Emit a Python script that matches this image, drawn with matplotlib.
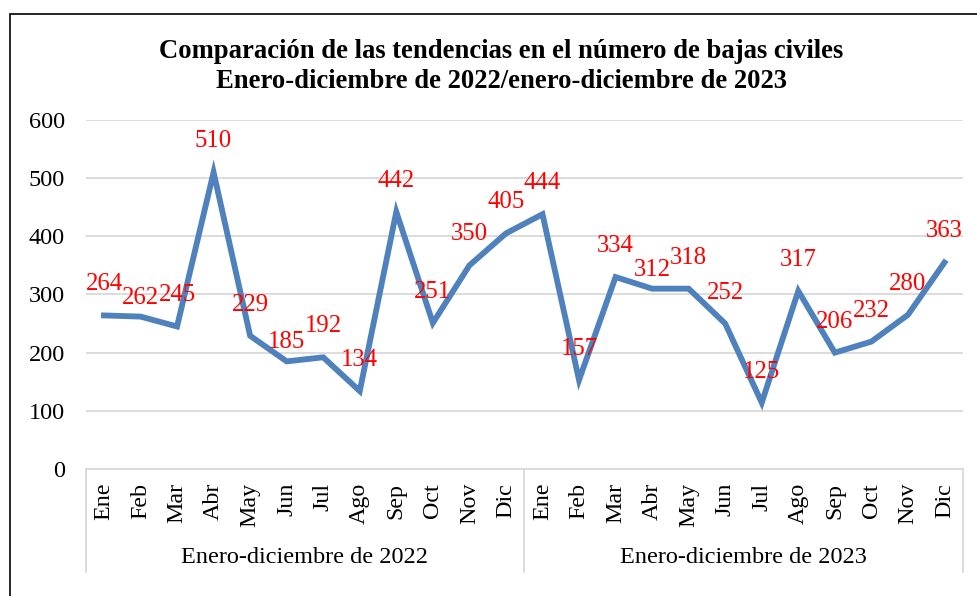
import numpy as np
import matplotlib
matplotlib.use("Agg")
import matplotlib.pyplot as plt
from matplotlib.patches import Rectangle
import matplotlib.transforms as mtransforms

plt.rcParams['font.family'] = ['Liberation Serif', 'DejaVu Serif']

# data
months = ["Ene", "Feb", "Mar", "Abr", "May", "Jun", "Jul", "Ago", "Sep", "Oct", "Nov", "Dic"]
periods = ["Enero-diciembre de 2022", "Enero-diciembre de 2023"]
# line as drawn
line_2022 = [264, 262, 245, 510, 229, 185, 192, 134, 442, 251, 350, 405]
line_2023 = [438, 153, 330, 310, 310, 250, 114, 306, 200, 219, 265, 355]
# numbers printed in red on the chart
labels_2022 = [264, 262, 245, 510, 229, 185, 192, 134, 442, 251, 350, 405]
labels_2023 = [444, 157, 334, 312, 318, 252, 125, 317, 206, 232, 280, 363]

values = line_2022 + line_2023
label_values = labels_2022 + labels_2023
ticklabels = months * len(periods)
x = np.arange(len(values))

# labels that sit a bit closer to the line in the original
close_labels = {1, 5, 15}

fig = plt.figure(figsize=(9.77, 5.96), dpi=100)
ax = fig.add_axes([0.0877, 0.2131, 0.8977, 0.5856])

ax.plot(x, values, color="#4f81bd", lw=4.2, solid_joinstyle="miter", zorder=3)

for i, (xi, v, lab) in enumerate(zip(x, values, label_values)):
    dy = 19 if i in close_labels else 31
    ax.annotate(str(lab), (xi, v), xytext=(0, dy), textcoords="offset pixels",
                ha="center", va="center", color="red", fontsize=17.8, zorder=4)

ax.set_ylim(0, 600)
ax.set_xlim(-0.5, len(values) - 0.5)
ax.set_yticks(range(0, 601, 100))
ax.yaxis.grid(True, color="#d9d9d9", lw=1.3)
ax.set_axisbelow(True)
for s in ["top", "right", "left"]:
    ax.spines[s].set_visible(False)
ax.spines["bottom"].set_color("#d9d9d9")
ax.spines["bottom"].set_linewidth(1.3)
ax.tick_params(axis="y", length=0, pad=15, labelsize=17.5)
ax.set_xticks(x)
ax.set_xticklabels(ticklabels, rotation=90, fontsize=17.3)
ax.tick_params(axis="x", length=0, pad=10)

# group separators and period labels under the axis
trans = mtransforms.blended_transform_factory(ax.transData, ax.transAxes)
n = len(months)
for k in range(len(periods) + 1):
    xs = k * n - 0.5
    ax.plot([xs, xs], [0, -0.295], color="#d9d9d9", lw=1.3, transform=trans, clip_on=False)
for k, p in enumerate(periods):
    ax.text(k * n + (n - 1) / 2, -0.255, p, transform=trans, ha="center", va="center",
            fontsize=17.5)

fig.text(0.513, 0.889, "Comparación de las tendencias en el número de bajas civiles\n"
         "Enero-diciembre de 2022/enero-diciembre de 2023",
         ha="center", va="center", fontsize=19.2, fontweight="bold", linespacing=1.27)

# chart frame (runs off the right and bottom edges)
fig.add_artist(Rectangle((0.0102, -0.1), 1.1, 0.9765 + 0.1, transform=fig.transFigure,
                         fill=False, edgecolor="black", lw=1.2))

fig.savefig("out.png", dpi=100)
